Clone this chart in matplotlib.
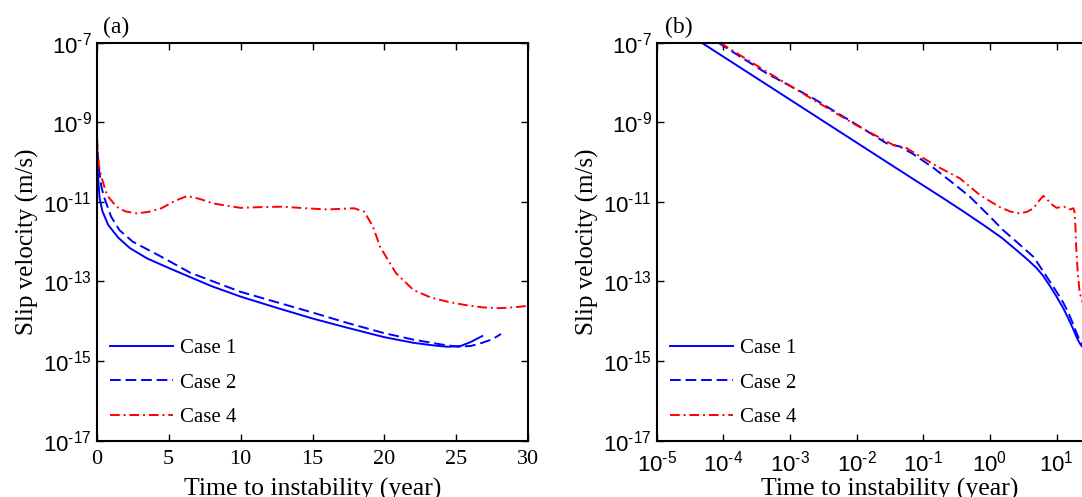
import matplotlib
matplotlib.use('Agg')
import matplotlib.pyplot as plt
from matplotlib.ticker import NullLocator

plt.rcParams['font.family'] = 'Liberation Serif'
plt.rcParams['mathtext.fontset'] = 'custom'
plt.rcParams['mathtext.rm'] = 'Liberation Sans'
plt.rcParams['mathtext.it'] = 'Liberation Sans:italic'
plt.rcParams['mathtext.bf'] = 'Liberation Sans:bold'

# time to instability (year) and log10 of slip velocity (m/s)
case1_t = [4.73e-5, 3.16e-4, 3.16e-3, 0.0316, 0.2, 0.4, 0.8, 1.5, 2.3, 3.5, 5.0, 6.3, 8.0,
           10.0, 12.5, 15.0, 17.5, 20.0, 22.0, 23.5, 24.4, 25.3, 26.0, 26.8]
case1_logv = [-7.0, -7.89, -8.97, -10.05, -10.91, -11.24, -11.58, -11.90, -12.16, -12.42, -12.66,
              -12.86, -13.12, -13.38, -13.66, -13.93, -14.17, -14.40, -14.54, -14.61, -14.64,
              -14.62, -14.52, -14.37]

case2_t = [8.4e-5, 4.47e-4, 2.24e-3, 0.0112, 0.0282, 0.0447, 0.0708, 0.141, 0.316, 0.5, 1.0,
           1.58, 2.5, 4.5, 6.5, 10.0, 12.5, 15.0, 17.5, 20.0, 22.0, 23.9, 25.1, 26.0, 26.8,
           27.5, 28.1]
case2_logv = [-7.0, -7.77, -8.40, -9.11, -9.53, -9.61, -9.80, -10.14, -10.6, -10.87, -11.37,
              -11.71, -12.0, -12.38, -12.78, -13.26, -13.52, -13.78, -14.05, -14.30, -14.46,
              -14.58, -14.64, -14.62, -14.54, -14.45, -14.32]

case4_t = [8.9e-5, 4.47e-4, 2.5e-3, 8.9e-3, 0.0355, 0.0562, 0.1, 0.158, 0.355, 0.71, 1.37,
           2.0, 2.8, 3.6, 4.5, 5.4, 6.3, 7.2, 8.1, 10.0, 11.5, 12.9, 14.5, 16.0, 17.9, 18.6,
           19.2, 19.7, 20.8, 22.0, 23.2, 24.4, 25.6, 26.8, 28.0, 29.0, 30.0]
case4_logv = [-7.0, -7.73, -8.48, -9.03, -9.57, -9.65, -9.90, -10.10, -10.41, -10.83, -11.12,
              -11.24, -11.29, -11.25, -11.16, -10.98, -10.85, -10.93, -11.04, -11.15, -11.13,
              -11.12, -11.16, -11.19, -11.16, -11.25, -11.62, -12.13, -12.79, -13.21, -13.4,
              -13.51, -13.59, -13.65, -13.67, -13.65, -13.61]

labels = ['Case 1', 'Case 2', 'Case 4']
yexp = [-17, -15, -13, -11, -9, -7]
xexp = [-5, -4, -3, -2, -1, 0, 1]

series = [(case1_t, case1_logv, 'b', '-'),
          (case2_t, case2_logv, 'b', (0, (5.5, 2.5))),
          (case4_t, case4_logv, 'r', (0, (5, 2, 1, 2)))]


def pow10(e):
    return r'$10^{\text{-%d}}$' % (-e) if e < 0 else r'$10^{%d}$' % e


fig = plt.figure(figsize=(10.82, 4.97), dpi=100)
ax1 = fig.add_axes([0.0894, 0.1133, 0.3989, 0.8008])
ax2 = fig.add_axes([0.6069, 0.1133, 0.4312, 0.8008])

for ax in (ax1, ax2):
    for (t, lv, c, ls), lab in zip(series, labels):
        ax.plot(t, [10.0 ** v for v in lv], color=c, linestyle=ls, lw=1.4, label=lab)
    ax.set_yscale('log')
    ax.set_ylim(1e-17, 1e-7)
    ax.set_yticks([10.0 ** e for e in yexp])
    ax.set_yticklabels([pow10(e) for e in yexp], fontsize=16)
    ax.yaxis.set_minor_locator(NullLocator())
    ax.tick_params(direction='in', top=True, right=True, length=5, width=1.0)
    ax.tick_params(axis='x', pad=7)
    for s in ax.spines.values():
        s.set_linewidth(1.5)
    ax.set_ylabel('Slip velocity (m/s)', fontsize=18, labelpad=3)
    ax.legend(loc='lower left', frameon=False, fontsize=15, handlelength=3.0,
              handletextpad=0.35, labelspacing=0.72, borderaxespad=0.25)

ax1.set_xlabel('Time to instability (year)', fontsize=18.5, labelpad=6)
ax2.set_xlabel('Time to instability (year)', fontsize=18.5, labelpad=1)

ax1.set_xlim(0, 30)
ax1.set_xticks(range(0, 31, 5))
ax1.set_xticklabels([str(v) for v in range(0, 31, 5)], fontsize=16)

ax2.set_xscale('log')
ax2.set_xlim(1e-5, 1e2)
ax2.set_xticks([10.0 ** e for e in xexp])
ax2.set_xticklabels([pow10(e) for e in xexp], fontsize=16)
ax2.xaxis.set_minor_locator(NullLocator())

ax1.text(0.015, 1.025, '(a)', transform=ax1.transAxes, fontsize=17, va='baseline')
ax2.text(0.018, 1.025, '(b)', transform=ax2.transAxes, fontsize=17, va='baseline')

fig.savefig('out.png', dpi=100)
